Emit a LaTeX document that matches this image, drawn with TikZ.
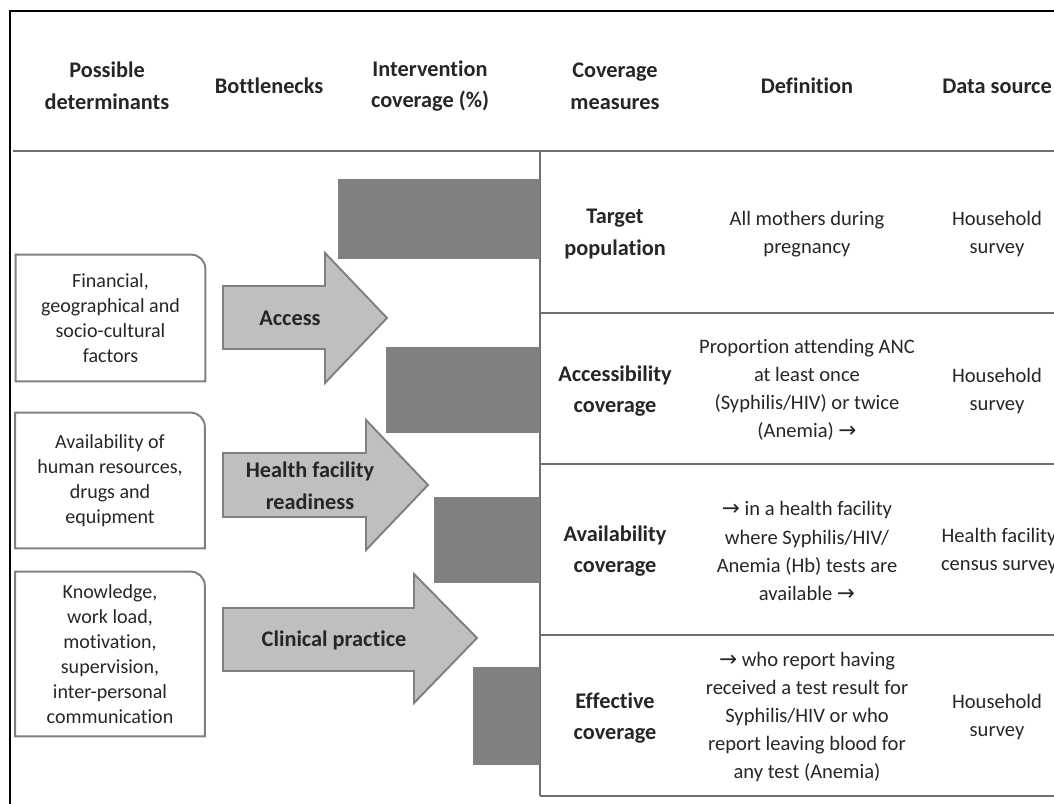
\documentclass[tikz,border=0pt]{standalone}
\usepackage{fontspec}
\setmainfont{Carlito}[RawFeature=-liga]
\newfontfamily\arrowfont{DejaVu Sans}[Scale=1.05]
\newcommand{\ra}{{\arrowfont →}}
\definecolor{ink}{HTML}{262626}
\definecolor{rulegray}{HTML}{6F6F6F}
\definecolor{bargray}{HTML}{808080}
\definecolor{arrowgray}{HTML}{BFBFBF}
\definecolor{edgegray}{HTML}{7F7F7F}

\begin{document}
\begin{tikzpicture}[x=0.02cm,y=0.02cm]
	\tikzstyle{head} = [font=\bfseries\fontsize{12.7}{18}\selectfont,align=center,text=ink,inner sep=0pt]
	\tikzstyle{det} = [font=\fontsize{11.4}{14.2}\selectfont,align=center,text=ink,inner sep=0pt,minimum width=3.78cm]
	\tikzstyle{detline} = [draw=edgegray,line width=1.1pt]
	\tikzstyle{bneck} = [draw=edgegray,line width=1.1pt,fill=arrowgray]
	\tikzstyle{blabel} = [head]
	\tikzstyle{bar} = [fill=bargray]
	\tikzstyle{measure} = [head]
	\tikzstyle{defn} = [font=\fontsize{11.7}{16}\selectfont,align=center,text=ink,inner sep=0pt]
	\tikzstyle{rule} = [draw=rulegray,line width=0.9pt]
	\clip (0,0) rectangle (1054,-804);
	\useasboundingbox (0,0) rectangle (1054,-804);

	% frame and table rules
	\draw[line width=1pt] (10,-804) -- (10,-11) -- (1054,-11);
	\draw[rule] (13,-151) -- (1054,-151);
	\draw[rule] (540,-151) -- (540,-796);
	\draw[rule] (540,-313) -- (1054,-313);
	\draw[rule] (540,-464) -- (1054,-464);
	\draw[rule] (540,-635) -- (1054,-635);
	\draw[rule] (540,-796) -- (1054,-796);

	% headers
	\node (hdet) [head] at (107,-86) {Possible\\determinants};
	\node (hbneck) [head] at (269,-86) {Bottlenecks};
	\node (hcov) [head] at (430,-86) {Intervention\\coverage (\%)};
	\node (hmeas) [head] at (615,-86) {Coverage\\measures};
	\node (hdef) [head] at (807,-86) {Definition};
	\node (hsrc) [head] at (997,-86) {Data source};

	% coverage bars
	\fill[bar] (338,-179) rectangle (540,-259);
	\fill[bar] (386,-347) rectangle (540,-433);
	\fill[bar] (434,-497) rectangle (540,-583);
	\fill[bar] (473,-667) rectangle (540,-765);

	% determinants
	\node (fin) [det,minimum height=2.52cm] at (110.5,-318) {Financial,\\geographical and\\socio-cultural\\factors};
	\node (hrs) [det,minimum height=2.7cm] at (110,-480.5) {Availability of\\human resources,\\drugs and\\equipment};
	\node (know) [det,minimum height=3.28cm] at (110,-654) {Knowledge,\\work load,\\motivation,\\supervision,\\inter-personal\\communication};
	\draw[detline] (fin.south west) -- (fin.north west) -- ([xshift=-8pt]fin.north east) arc[start angle=90,end angle=0,radius=8pt] -- (fin.south east) -- cycle;
	\draw[detline] (hrs.south west) -- (hrs.north west) -- ([xshift=-8pt]hrs.north east) arc[start angle=90,end angle=0,radius=8pt] -- (hrs.south east) -- cycle;
	\draw[detline] (know.south west) -- (know.north west) -- ([xshift=-8pt]know.north east) arc[start angle=90,end angle=0,radius=8pt] -- (know.south east) -- cycle;

	% bottleneck arrows
	\draw[bneck] (223,-286) -- (325,-286) -- (325,-253) -- (387,-318) -- (325,-383) -- (325,-349) -- (223,-349) -- cycle;
	\draw[bneck] (223,-453) -- (366,-453) -- (366,-420) -- (428,-485) -- (366,-550) -- (366,-517) -- (223,-517) -- cycle;
	\draw[bneck] (223,-608) -- (414,-608) -- (414,-574) -- (477,-638) -- (414,-703) -- (414,-671) -- (223,-671) -- cycle;
	\node (access) [blabel] at (290,-318) {Access};
	\node (ready) [blabel] at (310,-486) {Health facility\\readiness};
	\node (clinic) [blabel] at (334,-640) {Clinical practice};

	% coverage measures
	\node (target) [measure] at (615,-234) {Target\\population};
	\node (accessib) [measure] at (615,-391) {Accessibility\\coverage};
	\node (avail) [measure] at (615,-551) {Availability\\coverage};
	\node (effect) [measure] at (615,-718) {Effective\\coverage};

	% definitions
	\node (deftarget) [defn] at (807,-234) {All mothers during\\pregnancy};
	\node (defaccess) [defn] at (807,-390) {Proportion attending ANC\\at least once\\(Syphilis/HIV) or twice\\(Anemia) \ra};
	\node (defavail) [defn] at (807,-551) {\ra{} in a health facility\\where Syphilis/HIV/\\Anemia (Hb) tests are\\available \ra};
	\node (defeffect) [defn] at (807,-717) {\ra{} who report having\\received a test result for\\Syphilis/HIV or who\\report leaving blood for\\any test (Anemia)};

	% data sources
	\node (srctarget) [defn] at (997,-234) {Household\\survey};
	\node (srcaccess) [defn] at (997,-391) {Household\\survey};
	\node (srcavail) [defn] at (999,-551) {Health facility\\census survey};
	\node (srceffect) [defn] at (997,-717) {Household\\survey};
\end{tikzpicture}
\end{document}
